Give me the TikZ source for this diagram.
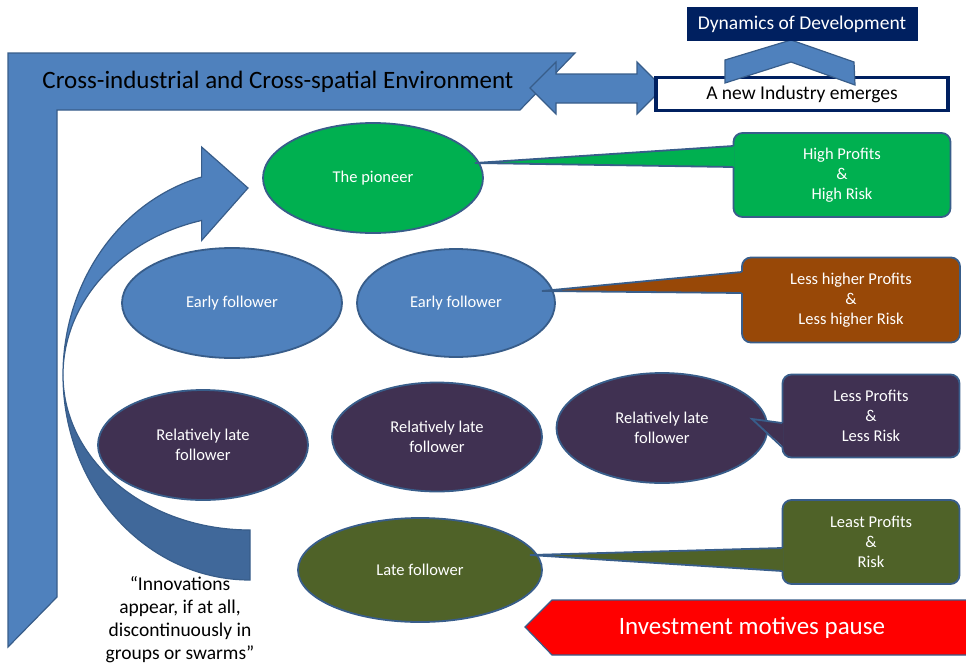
\documentclass[tikz,border=0pt]{standalone}
\usepackage{fontspec}
\setmainfont{Carlito}
\usetikzlibrary{positioning,calc,shapes.geometric}

\definecolor{frameblue}{RGB}{79,129,189}
\definecolor{edgeblue}{RGB}{56,93,138}
\definecolor{backblue}{RGB}{64,104,154}
\definecolor{pioneergreen}{RGB}{0,176,80}
\definecolor{latepurple}{RGB}{64,49,82}
\definecolor{olivegreen}{RGB}{79,98,40}
\definecolor{rustbrown}{RGB}{152,72,7}
\definecolor{navy}{RGB}{0,32,96}

\begin{document}
\begin{tikzpicture}[x=1pt,y=-1pt,
  firm/.style={ellipse, draw=edgeblue, line width=1.8pt, text=white, align=center, inner sep=0pt, font=\fontsize{16.5}{20}\selectfont},
  payoff/.style={rectangle, rounded corners=9pt, draw=edgeblue, line width=1.8pt, text=white, align=center, font=\fontsize{16.5}{20}\selectfont},
  blueshape/.style={fill=frameblue, draw=edgeblue, line width=1.2pt},
  wedge/.style={draw=edgeblue, line width=1.8pt},
]
\useasboundingbox (0,0) rectangle (966,667);

%Frame
\draw[blueshape] (8,53) -- (575,53) -- (520,110) -- (57,110) -- (57,597) -- (8,647) -- cycle;
\node (env) at (278,82) {\fontsize{25}{28}\selectfont Cross-industrial and Cross-spatial Environment};
\draw[blueshape] (530,88) -- (556,62) -- (556,74) -- (637,74) -- (637,62) -- (663,88) -- (637,114) -- (637,103) -- (556,103) -- (556,114) -- cycle;

%Top boxes
\node[draw=navy, line width=3.5pt, fill=white, minimum width=292pt, minimum height=33pt, font=\fontsize{19.5}{22}\selectfont] (emerge) at (802,94) {A new Industry emerges};
\draw[blueshape] (725,83) -- (725,60) -- (791,40) -- (854,62) -- (855,85) -- (791,62) -- cycle;
\node[fill=navy, text=white, minimum width=231pt, minimum height=34pt, font=\fontsize{19.5}{22}\selectfont] (dynamics) at (802,24) {Dynamics of Development};

%Curved arrow
\draw[blueshape, fill=backblue] (63,375) arc[start angle=180, end angle=90, x radius=187, y radius=205] -- (250,530) arc[start angle=90, end angle=180, x radius=187, y radius=155] -- cycle;
\draw[blueshape] ($(250,375)+(255:187 and 160)$) arc[start angle=255, end angle=180, x radius=187, y radius=160] arc[start angle=180, end angle=255, x radius=187, y radius=205] -- ++(0,-30) -- (248,188) -- ($(250,375)+(255:187 and 160)+(0,20)$) -- cycle;

%Nodes
\node[firm, fill=pioneergreen, minimum width=220pt, minimum height=110pt] (pioneer) at (373,178) {The pioneer};
\node[firm, fill=frameblue, minimum width=220pt, minimum height=110pt] (early1) at (232,303) {Early follower};
\node[firm, fill=frameblue, minimum width=198pt, minimum height=108pt] (early2) at (456,303) {Early follower};
\node[firm, fill=latepurple, minimum width=210pt, minimum height=110pt] (rel1) at (203,445) {Relatively late\\follower};
\node[firm, fill=latepurple, minimum width=210pt, minimum height=109pt] (rel2) at (437,437) {Relatively late\\follower};
\node[firm, fill=latepurple, minimum width=211pt, minimum height=110pt] (rel3) at (662,428) {Relatively late\\follower};
\node[firm, fill=olivegreen, minimum width=244pt, minimum height=104pt] (late) at (420,570) {Late follower};

%Callouts
\node[payoff, fill=pioneergreen, minimum width=217pt, minimum height=84pt] (high) at (842,175) {High Profits\\\&\\High Risk};
\node[payoff, fill=rustbrown, minimum width=218pt, minimum height=85pt] (lesshigh) at (851,300) {Less higher Profits\\\&\\Less higher Risk};
\node[payoff, fill=latepurple, minimum width=177pt, minimum height=83pt] (less) at (871,416) {Less Profits\\\&\\Less Risk};
\node[payoff, fill=olivegreen, minimum width=177pt, minimum height=84pt] (least) at (871,542) {Least Profits\\\&\\Risk};

%Wedges
\fill[pioneergreen] ($(high.west)+(2,-29)$) -- ($(pioneer.center)+(102,-15)$) -- ($(high.west)+(2,-8)$) -- cycle;
\draw[wedge] ($(high.west)+(0.5,-29)$) -- ($(pioneer.center)+(102,-15)$) -- ($(high.west)+(0.5,-8)$);
\fill[rustbrown] ($(lesshigh.west)+(2,-28)$) -- ($(early2.center)+(86,-12)$) -- ($(lesshigh.west)+(2,-7)$) -- cycle;
\draw[wedge] ($(lesshigh.west)+(0.5,-28)$) -- ($(early2.center)+(86,-12)$) -- ($(lesshigh.west)+(0.5,-7)$);
\fill[latepurple] ($(less.west)+(2,7)$) -- ($(rel3.center)+(90,-9)$) -- ($(less.west)+(2,31)$) -- cycle;
\draw[wedge] ($(less.west)+(0.5,7)$) -- ($(rel3.center)+(90,-9)$) -- ($(less.west)+(0.5,31)$);
\fill[olivegreen] ($(least.west)+(2,6)$) -- ($(late.center)+(110,-15)$) -- ($(least.west)+(2,29)$) -- cycle;
\draw[wedge] ($(least.west)+(0.5,6)$) -- ($(late.center)+(110,-15)$) -- ($(least.west)+(0.5,29)$);

%Bottom
\draw[blueshape, fill=red] (525,627) -- (552,600) -- (975,600) -- (975,655) -- (552,655) -- cycle;
\node[text=white, font=\fontsize{25}{28}\selectfont] (pause) at (752,628) {Investment motives pause};
\node[align=center, font=\fontsize{19.5}{23}\selectfont] (quote) at (180,620) {“Innovations\\appear, if at all,\\discontinuously in\\groups or swarms”};

\end{tikzpicture}
\end{document}
